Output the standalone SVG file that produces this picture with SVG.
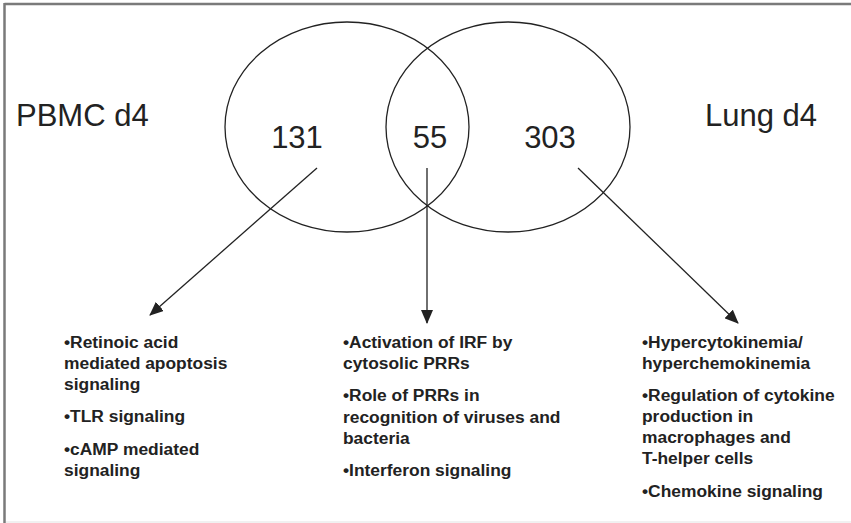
<svg xmlns="http://www.w3.org/2000/svg" width="851" height="523" viewBox="0 0 851 523">
<style>
.frame{stroke:#7a7a7a;stroke-width:2.5;fill:none}
.venn{fill:none;stroke:#222;stroke-width:1.3}
.big{font-family:"Liberation Sans",Arial,sans-serif;font-size:31px;fill:#222}
.num{text-anchor:middle}
.conn line{stroke:#222;stroke-width:1.3;marker-end:url(#ah)}
.list{font-family:"Liberation Sans",Arial,sans-serif;font-size:17.4px;font-weight:bold;fill:#222}
</style>
<defs>
<marker id="ah" markerWidth="14" markerHeight="12" refX="13" refY="6" orient="auto" markerUnits="userSpaceOnUse">
<path d="M0,0 L14,6 L0,12 Z" fill="#222"/>
</marker>
</defs>
<rect width="851" height="523" fill="#fff"/>
<g id="frame">
<line class="frame" x1="4.5" y1="4" x2="851" y2="4"/>
<line class="frame" x1="4.5" y1="3" x2="4.5" y2="523"/>
<line x1="6" y1="522" x2="851" y2="522" stroke="#ececec" stroke-width="1.5"/>
</g>
<g id="pbmc">
<ellipse class="venn" cx="347" cy="127" rx="122" ry="105"/>
<text class="big" x="16" y="126">PBMC d4</text>
<text class="big num" x="297" y="148">131</text>
</g>
<g id="lung">
<ellipse class="venn" cx="508" cy="127" rx="122" ry="105"/>
<text class="big" x="705" y="126">Lung d4</text>
<text class="big num" x="550" y="148">303</text>
</g>
<g id="overlap">
<text class="big num" x="430" y="148">55</text>
</g>
<g id="connectors" class="conn">
<line x1="317" y1="168" x2="150" y2="315"/>
<line x1="427" y1="168" x2="427" y2="323"/>
<line x1="578" y1="168" x2="738" y2="323"/>
</g>
<g id="list-pbmc" class="list">
<text x="64" y="348">•Retinoic acid</text>
<text x="64" y="369">mediated apoptosis</text>
<text x="64" y="390">signaling</text>
<text x="64" y="422">•TLR signaling</text>
<text x="64" y="455">•cAMP mediated</text>
<text x="64" y="476">signaling</text>
</g>
<g id="list-overlap" class="list">
<text x="343" y="348">•Activation of IRF by</text>
<text x="343" y="369">cytosolic PRRs</text>
<text x="343" y="401">•Role of PRRs in</text>
<text x="343" y="423">recognition of viruses and</text>
<text x="343" y="444">bacteria</text>
<text x="343" y="476">•Interferon signaling</text>
</g>
<g id="list-lung" class="list">
<text x="642" y="348">•Hypercytokinemia/</text>
<text x="642" y="369">hyperchemokinemia</text>
<text x="642" y="401">•Regulation of cytokine</text>
<text x="642" y="422">production in</text>
<text x="642" y="443">macrophages and</text>
<text x="642" y="464">T-helper cells</text>
<text x="642" y="497">•Chemokine signaling</text>
</g>
</svg>
